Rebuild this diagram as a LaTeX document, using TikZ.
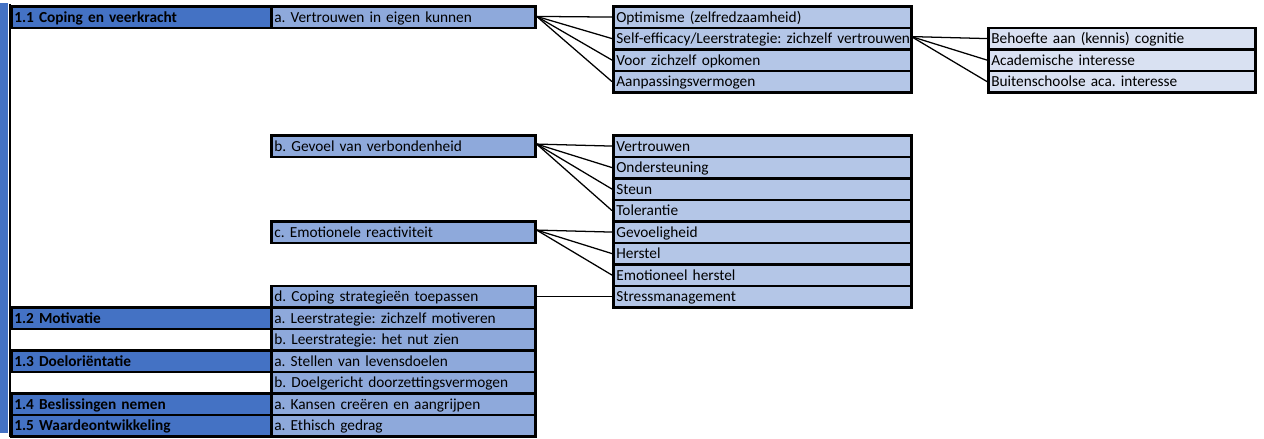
\documentclass[tikz,border=0pt]{standalone}
\usepackage{fontspec}
\setmainfont{Carlito}
\frenchspacing
\definecolor{cA}{HTML}{4472C4}
\definecolor{cB}{HTML}{8EA9DB}
\definecolor{cC}{HTML}{B4C6E7}
\definecolor{cD}{HTML}{D9E1F2}
\tikzset{
  cell/.style={draw=black, line width=2pt, anchor=north west, inner xsep=2.25pt, inner ysep=0pt,
    minimum height=16.125pt, text height=9pt, text depth=1.5pt, align=left,
    font=\fontsize{11.5}{13}\selectfont\frenchspacing},
  lv1/.style={cell, fill=cA, text width=190.5pt, font=\fontsize{11.5}{13}\selectfont\bfseries\frenchspacing},
  lv2/.style={cell, fill=cB, text width=193.5pt},
  lv3/.style={cell, fill=cC, text width=219pt},
  lv4/.style={cell, fill=cD, text width=195.75pt},
  link/.style={draw=black, line width=0.95pt}
}
\begin{document}
\begin{tikzpicture}[x=0.75pt,y=-0.75pt]
\useasboundingbox (0,0) rectangle (1264,439);
% left bar and spine
\fill[cA] (0,3) rectangle (8,433);
\draw[line width=2pt] (10,4) -- (10,437);
% level 1
\node[lv1] (l11) at (10,{5+21.5*0}) {1.1 Coping en veerkracht};
\node[lv1] (l12) at (10,{5+21.5*14}) {1.2 Motivatie};
\node[lv1] (l13) at (10,{5+21.5*16}) {1.3 Doeloriëntatie};
\node[lv1] (l14) at (10,{5+21.5*18}) {1.4 Beslissingen nemen};
\node[lv1] (l15) at (10,{5+21.5*19}) {1.5 Waardeontwikkeling};
% level 2
\node[lv2] (a1) at (270,{5+21.5*0}) {a. Vertrouwen in eigen kunnen};
\node[lv2] (b1) at (270,{5+21.5*6}) {b. Gevoel van verbondenheid};
\node[lv2] (c1) at (270,{5+21.5*10}) {c. Emotionele reactiviteit};
\node[lv2] (d1) at (270,{5+21.5*13}) {d. Coping strategieën toepassen};
\node[lv2] (a2) at (270,{5+21.5*14}) {a. Leerstrategie: zichzelf motiveren};
\node[lv2] (b2) at (270,{5+21.5*15}) {b. Leerstrategie: het nut zien};
\node[lv2] (a3) at (270,{5+21.5*16}) {a. Stellen van levensdoelen};
\node[lv2] (b3) at (270,{5+21.5*17}) {b. Doelgericht doorzettingsvermogen};
\node[lv2] (a4) at (270,{5+21.5*18}) {a. Kansen creëren en aangrijpen};
\node[lv2] (a5) at (270,{5+21.5*19}) {a. Ethisch gedrag};
% level 3
\node[lv3] (o1) at (612,{5+21.5*0}) {Optimisme (zelfredzaamheid)};
\node[lv3] (o2) at (612,{5+21.5*1}) {\mbox{Self-efficacy/Leerstrategie: zichzelf vertrouwen}};
\node[lv3] (o3) at (612,{5+21.5*2}) {Voor zichzelf opkomen};
\node[lv3] (o4) at (612,{5+21.5*3}) {Aanpassingsvermogen};
\node[lv3] (v1) at (612,{5+21.5*6}) {Vertrouwen};
\node[lv3] (v2) at (612,{5+21.5*7}) {Ondersteuning};
\node[lv3] (v3) at (612,{5+21.5*8}) {Steun};
\node[lv3] (v4) at (612,{5+21.5*9}) {Tolerantie};
\node[lv3] (e1) at (612,{5+21.5*10}) {Gevoeligheid};
\node[lv3] (e2) at (612,{5+21.5*11}) {Herstel};
\node[lv3] (e3) at (612,{5+21.5*12}) {Emotioneel herstel};
\node[lv3] (s1) at (612,{5+21.5*13}) {Stressmanagement};
% level 4
\node[lv4] (k1) at (987,{5+21.5*1}) {Behoefte aan (kennis) cognitie};
\node[lv4] (k2) at (987,{5+21.5*2}) {Academische interesse};
\node[lv4] (k3) at (987,{5+21.5*3}) {Buitenschoolse aca. interesse};
% connectors
\foreach \t in {o1,o2,o3,o4} \draw[link] ([yshift=0.5pt]a1.east) -- (\t.west);
\foreach \t in {k1,k2,k3} \draw[link] ([xshift=-1pt,yshift=1.5pt]o2.east) -- (\t.west);
\foreach \t in {v1,v2,v3,v4} \draw[link] ([yshift=1.5pt]b1.east) -- (\t.west);
\foreach \t in {e1,e2,e3} \draw[link] ([yshift=1.5pt]c1.east) -- (\t.west);
\draw[link] (d1.east) -- (s1.west);
\end{tikzpicture}
\end{document}
